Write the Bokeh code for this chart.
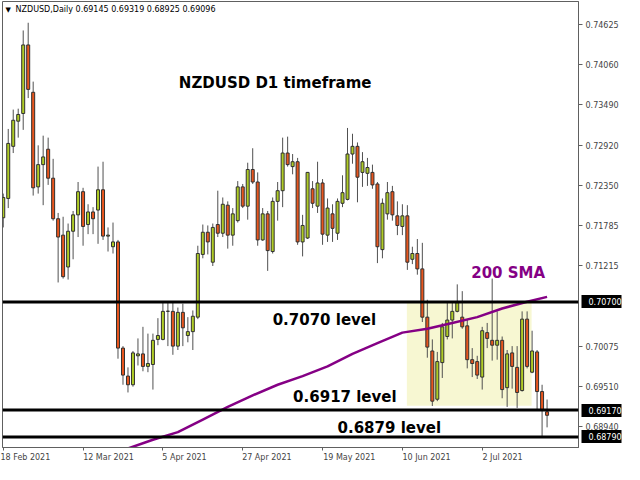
from bokeh.plotting import figure
from bokeh.models import (Range1d, FixedTicker, PrintfTickFormatter, Span, Label,
                          ColumnDataSource, LinearAxis)
from bokeh.embed import file_html
from bokeh.resources import INLINE

# ---------------- data ----------------
opens = [0.71892, 0.72165, 0.72903, 0.73259, 0.73368, 0.74338, 0.73668, 0.72329, 0.72644, 0.72862,
         0.72452, 0.71878, 0.71646, 0.71195, 0.71701, 0.71933, 0.72261, 0.71796, 0.71974, 0.72001,
         0.72288, 0.71632, 0.71482, 0.71550, 0.70047, 0.69651, 0.69528, 0.69938, 0.69965, 0.69788,
         0.69815, 0.70170, 0.70170, 0.70567, 0.70567, 0.70075, 0.70553, 0.70225, 0.70280, 0.70485,
         0.71373, 0.71687, 0.71263, 0.71796, 0.71673, 0.72070, 0.71646, 0.71851, 0.72329, 0.72056,
         0.72575, 0.72398, 0.71578, 0.71947, 0.71414, 0.72124, 0.72275, 0.72808, 0.72616, 0.72685,
         0.71550, 0.71605, 0.72302, 0.72056, 0.72384, 0.71646, 0.71947, 0.71673, 0.72097, 0.72152,
         0.72794, 0.72903, 0.72534, 0.72521, 0.72534, 0.72370, 0.71441, 0.71947, 0.72261, 0.71919,
         0.71769, 0.71919, 0.71304, 0.71386, 0.71168, 0.70485, 0.70006, 0.69323, 0.69842, 0.70211,
         0.70444, 0.70567, 0.70485, 0.70362, 0.69883, 0.69856, 0.69637, 0.70266, 0.70157, 0.70088,
         0.70157, 0.69487, 0.69979, 0.69774, 0.69446, 0.70457, 0.69706, 0.69993, 0.69432, 0.69145]
highs = [0.72234, 0.73149, 0.73423, 0.73436, 0.74543, 0.74652, 0.73819, 0.72917, 0.73054, 0.73026,
         0.72726, 0.71960, 0.71906, 0.71810, 0.71988, 0.72398, 0.72316, 0.72083, 0.72042, 0.72616,
         0.72685, 0.71755, 0.71824, 0.71578, 0.70075, 0.69774, 0.70006, 0.70184, 0.70348, 0.70252,
         0.70252, 0.70471, 0.70703, 0.70703, 0.70703, 0.70621, 0.70676, 0.70485, 0.70580, 0.71496,
         0.71796, 0.71783, 0.71810, 0.72275, 0.72179, 0.72124, 0.72029, 0.72411, 0.72370, 0.72671,
         0.72876, 0.72534, 0.72029, 0.71988, 0.72179, 0.72398, 0.73026, 0.73040, 0.72794, 0.72739,
         0.71933, 0.72540, 0.72411, 0.72685, 0.72439, 0.72165, 0.72083, 0.72165, 0.72493, 0.73163,
         0.73081, 0.72958, 0.72821, 0.72739, 0.72644, 0.72398, 0.72165, 0.72398, 0.72343, 0.72124,
         0.72083, 0.72070, 0.71482, 0.71591, 0.71537, 0.70731, 0.70170, 0.69993, 0.70403, 0.70690,
         0.70690, 0.70949, 0.70853, 0.70457, 0.70047, 0.69938, 0.70348, 0.70403, 0.71031, 0.70567,
         0.70211, 0.70020, 0.70075, 0.70075, 0.70567, 0.70567, 0.70293, 0.70020, 0.69528, 0.69319]
lows = [0.71755, 0.72029, 0.72808, 0.73026, 0.73136, 0.73586, 0.72206, 0.72234, 0.72070, 0.72357,
        0.71851, 0.70976, 0.71031, 0.71017, 0.71304, 0.71619, 0.71496, 0.71660, 0.71660, 0.71523,
        0.71578, 0.71414, 0.71386, 0.69897, 0.69528, 0.69419, 0.69501, 0.69801, 0.69719, 0.69706,
        0.69460, 0.70088, 0.70157, 0.70075, 0.69952, 0.70020, 0.70075, 0.70129, 0.70020, 0.70457,
        0.71318, 0.71373, 0.71209, 0.71619, 0.71619, 0.71455, 0.71496, 0.71824, 0.72029, 0.71865,
        0.72370, 0.71496, 0.71565, 0.71140, 0.71386, 0.71851, 0.72042, 0.72616, 0.72507, 0.71509,
        0.71345, 0.71591, 0.72029, 0.71960, 0.71509, 0.71550, 0.71550, 0.71578, 0.72042, 0.72138,
        0.72657, 0.72111, 0.72329, 0.72343, 0.72302, 0.71250, 0.71318, 0.71865, 0.71851, 0.71646,
        0.71646, 0.71154, 0.71236, 0.71086, 0.70416, 0.69911, 0.69227, 0.69296, 0.69624, 0.70170,
        0.70184, 0.70553, 0.70321, 0.69760, 0.69637, 0.69610, 0.69460, 0.70047, 0.69870, 0.69883,
        0.69337, 0.69214, 0.69473, 0.69200, 0.69432, 0.69760, 0.69692, 0.69173, 0.68795, 0.68925]
closes = [0.72179, 0.72944, 0.73272, 0.73354, 0.74338, 0.73709, 0.72316, 0.72644, 0.72753, 0.72452,
          0.71878, 0.71619, 0.71058, 0.71701, 0.71933, 0.72261, 0.71769, 0.71974, 0.71878, 0.72288,
          0.71632, 0.71646, 0.71550, 0.70047, 0.69665, 0.69528, 0.69979, 0.69965, 0.69788, 0.69829,
          0.70157, 0.70225, 0.70567, 0.70570, 0.70075, 0.70553, 0.70334, 0.70280, 0.70498, 0.71386,
          0.71687, 0.71550, 0.71755, 0.71673, 0.72083, 0.71646, 0.71947, 0.72329, 0.72056, 0.72575,
          0.72398, 0.71578, 0.71947, 0.71427, 0.72124, 0.72275, 0.72808, 0.72644, 0.72685, 0.71550,
          0.71783, 0.72534, 0.72097, 0.72384, 0.71660, 0.72029, 0.71742, 0.72124, 0.72247, 0.72794,
          0.72903, 0.72466, 0.72685, 0.72603, 0.72357, 0.71482, 0.72097, 0.72247, 0.71933, 0.71783,
          0.71919, 0.71263, 0.71386, 0.71168, 0.70485, 0.70061, 0.69296, 0.69856, 0.70348, 0.70444,
          0.70567, 0.70690, 0.70348, 0.69883, 0.69829, 0.69665, 0.70293, 0.70184, 0.70088, 0.70157,
          0.69460, 0.69965, 0.69788, 0.69419, 0.70457, 0.69788, 0.70006, 0.69432, 0.69173, 0.69096]

# 200-period SMA read at selected bars (bar index, value)
sma_idx = [23, 25, 30, 35, 40, 45, 50, 55, 60, 65, 70, 75, 80, 85, 90, 95, 100, 105, 109]
sma_vals = [0.68585, 0.68626, 0.68749, 0.68858, 0.69036, 0.69214, 0.69378, 0.69528, 0.69651,
            0.69788, 0.69965, 0.70116, 0.70266, 0.70321, 0.70403, 0.70485, 0.70608, 0.70703, 0.70772]

date_tick_idx = [0, 16, 32, 48, 64, 80, 96]
date_tick_labels = ["18 Feb 2021", "12 Mar 2021", "5 Apr 2021", "27 Apr 2021",
                    "19 May 2021", "10 Jun 2021", "2 Jul 2021"]
price_ticks = [0.74625, 0.74060, 0.73490, 0.72920, 0.72350, 0.71785, 0.71215,
               0.70075, 0.69510, 0.68940]

levels = [0.70700, 0.69170, 0.68790]
level_labels = ["0.70700", "0.69170", "0.68790"]

zone_left, zone_right = 80.9, 105.9      # bar indices of the shaded range
zone_top, zone_bottom = 0.70700, 0.69230

header = "NZDUSD,Daily  0.69145 0.69319 0.68925 0.69096"

# ---------------- figure ----------------
X0, X1 = -0.15, 115.3
Y0, Y1 = 0.68640, 0.74953
p = figure(width=624, height=464, output_backend="svg", toolbar_location=None,
           x_range=Range1d(X0, X1), y_range=Range1d(Y0, Y1),
           y_axis_location="right", min_border_left=2, min_border_top=1,
           min_border_right=0, min_border_bottom=0)
p.grid.visible = False
p.background_fill_color = "white"
p.border_fill_color = "white"
p.outline_line_color = "#606060"
p.outline_line_width = 1

FONT = "DejaVu Sans"

# MetaTrader prints the date to the right of its tick: pad on the left with
# no-break spaces so that the centred label starts at the tick.
pads = [0, 20, 17, 19, 21, 19, 16]
xa = p.xaxis[0]
xa.ticker = FixedTicker(ticks=date_tick_idx)
xa.major_label_overrides = {i: "\u00a0" * n + s
                            for i, s, n in zip(date_tick_idx, date_tick_labels, pads)}
xa.major_label_text_font = FONT
xa.major_label_text_font_size = "8px"
xa.major_tick_in = 0
xa.major_tick_out = 3
xa.minor_tick_out = 0
xa.minor_tick_in = 0
xa.axis_line_color = "#606060"
xa.major_tick_line_color = "#606060"
xa.major_label_standoff = 2

ya = p.yaxis[0]
ya.ticker = FixedTicker(ticks=price_ticks)
ya.formatter = PrintfTickFormatter(format="%.5f")
ya.major_label_text_font = FONT
ya.major_label_text_font_size = "8px"
ya.major_tick_in = 0
ya.major_tick_out = 4
ya.minor_tick_out = 0
ya.minor_tick_in = 0
ya.axis_line_color = "#606060"
ya.major_tick_line_color = "#606060"
ya.major_label_standoff = 3

# second price scale holding the black level boxes: it sits at the outer edge,
# its thick ticks point back over the first scale and its labels are pulled in.
yb = LinearAxis(ticker=FixedTicker(ticks=levels),
                major_label_overrides={lv: t for lv, t in zip(levels, level_labels)},
                major_label_text_font=FONT, major_label_text_font_size="8px",
                major_label_text_color="white", major_label_standoff=-33,
                major_tick_in=40, major_tick_out=0, major_tick_line_width=13,
                major_tick_line_color="black", major_tick_line_cap="butt",
                minor_tick_in=0, minor_tick_out=0, axis_line_color=None)
p.add_layout(yb, "right")

# shaded consolidation zone
p.quad(left=[zone_left], right=[zone_right], top=[zone_top], bottom=[zone_bottom],
       fill_color="#f7f7d2", line_color=None)

# candles
idx = list(range(len(opens)))
up = [c >= o for o, c in zip(opens, closes)]
src = ColumnDataSource(dict(
    x=idx, high=highs, low=lows,
    top=[max(o, c) for o, c in zip(opens, closes)],
    bottom=[min(o, c) for o, c in zip(opens, closes)],
    color=["#b0cc26" if u else "#e8561e" for u in up],
))
p.segment(x0="x", y0="low", x1="x", y1="high", source=src, line_color="#505050", line_width=1)
p.vbar(x="x", width=0.6, top="top", bottom="bottom", source=src,
       fill_color="color", line_color="#303030", line_width=1)

# 200 SMA
p.line(sma_idx, sma_vals, line_color="#850085", line_width=2.5)

# horizontal levels
for lv in levels:
    p.add_layout(Span(location=lv, dimension="width", line_color="black", line_width=3))

# texts
p.add_layout(Label(x=X0, y=Y1, x_offset=3, y_offset=-8, text="\u25bc", text_font=FONT,
                   text_font_size="7px", text_color="black", text_baseline="middle"))
p.add_layout(Label(x=X0, y=Y1, x_offset=13, y_offset=-8, text=header, text_font=FONT,
                   text_font_size="8px", text_color="black", text_baseline="middle"))

big = dict(text_font=FONT, text_font_style="bold", text_font_size="15px",
           text_baseline="middle")
p.add_layout(Label(x=35.2, y=0.73805, text="NZDUSD D1 timeframe", text_color="black", **big))
p.add_layout(Label(x=93.8, y=0.71113, text="200 SMA", text_color="#850085", **big))
p.add_layout(Label(x=54.0, y=0.70443, text="0.7070 level", text_color="black", **big))
p.add_layout(Label(x=58.1, y=0.69357, text="0.6917 level", text_color="black", **big))
p.add_layout(Label(x=67.0, y=0.68920, text="0.6879 level", text_color="black", **big))

open("out.html", "w").write(file_html(p, INLINE))
